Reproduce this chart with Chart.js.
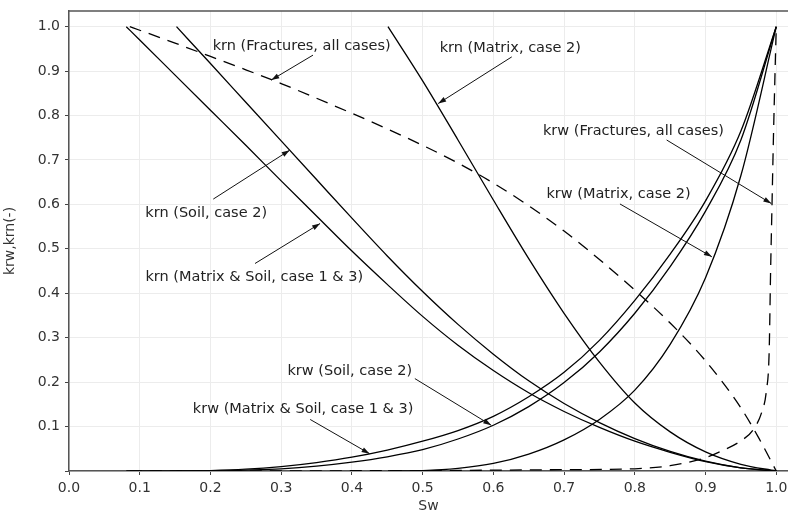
<!DOCTYPE html>
<html><head><meta charset="utf-8">
<script src="https://cdn.jsdelivr.net/npm/chart.js@4.4.0/dist/chart.umd.min.js"></script>
<style>html,body{margin:0;padding:0;background:#fff;overflow:hidden}</style>
</head><body>
<canvas id="c" width="788" height="515"></canvas>
<script>
// ---- tick labels ----
const xTicks = [0.0,0.1,0.2,0.3,0.4,0.5,0.6,0.7,0.8,0.9,1.0];
const yTicks = [0.0,0.1,0.2,0.3,0.4,0.5,0.6,0.7,0.8,0.9,1.0];

// ---- series (Sw, kr) ----
const krnMS_x = [0.081,0.1,0.15,0.2,0.25,0.3,0.35,0.4,0.45,0.5,0.55,0.6,0.65,0.7,0.75,0.8,0.85,0.9,0.95,1.0];
const krnMS_y = [1.0,0.97,0.891,0.812,0.733,0.653,0.574,0.495,0.42,0.348,0.283,0.226,0.176,0.134,0.098,0.067,0.042,0.021,0.007,0];

const krnS2_x = [0.152,0.2,0.25,0.3,0.35,0.4,0.45,0.5,0.55,0.6,0.65,0.7,0.75,0.8,0.85,0.9,0.95,1.0];
const krnS2_y = [1.0,0.917,0.83,0.743,0.656,0.569,0.484,0.404,0.33,0.263,0.203,0.152,0.109,0.073,0.044,0.022,0.007,0];

const krnM2_x = [0.451,0.5,0.55,0.6,0.65,0.7,0.75,0.8,0.85,0.9,0.95,1.0];
const krnM2_y = [1.0,0.878,0.745,0.61,0.478,0.355,0.245,0.153,0.088,0.043,0.015,0];

const krnF_x = [0.086,0.1,0.15,0.2,0.25,0.3,0.35,0.4,0.45,0.5,0.55,0.6,0.65,0.7,0.75,0.8,0.85,0.9,0.95,0.975,1.0];
const krnF_y = [1.0,0.992,0.963,0.933,0.903,0.872,0.839,0.805,0.77,0.733,0.693,0.648,0.597,0.54,0.476,0.407,0.333,0.248,0.142,0.075,0];

const krwF_x = [0.086,0.5,0.7,0.8,0.85,0.9,0.92,0.95,0.967,0.98,0.986,0.99,0.992,0.994,0.996,0.998,1.0];
const krwF_y = [0,0.001,0.003,0.005,0.012,0.03,0.043,0.068,0.092,0.135,0.18,0.27,0.45,0.6,0.75,0.88,1.0];

const krwMS_x = [0.081,0.15,0.2,0.25,0.3,0.35,0.4,0.45,0.5,0.55,0.6,0.65,0.7,0.75,0.8,0.85,0.9,0.95,1.0];
const krwMS_y = [0,0,0.001,0.004,0.01,0.019,0.031,0.047,0.067,0.091,0.123,0.167,0.222,0.294,0.384,0.488,0.608,0.765,1.0];

const krwS2_x = [0.152,0.2,0.25,0.3,0.35,0.4,0.45,0.5,0.55,0.6,0.65,0.7,0.75,0.8,0.85,0.9,0.95,1.0];
const krwS2_y = [0,0,0.002,0.005,0.011,0.02,0.032,0.048,0.072,0.103,0.145,0.199,0.268,0.355,0.46,0.585,0.745,1.0];

const krwM2_x = [0.451,0.5,0.55,0.6,0.65,0.7,0.75,0.8,0.85,0.9,0.95,1.0];
const krwM2_y = [0,0.001,0.006,0.017,0.038,0.07,0.116,0.182,0.285,0.435,0.665,1.0];

// ---- annotation texts ----
const labelTexts = [
  'krn (Fractures, all cases)',
  'krn (Matrix, case 2)',
  'krw (Fractures, all cases)',
  'krw (Matrix, case 2)',
  'krn (Soil, case 2)',
  'krn (Matrix & Soil, case 1 & 3)',
  'krw (Soil, case 2)',
  'krw (Matrix & Soil, case 1 & 3)'
];

const FONT = '"DejaVu Sans"';

// layout of annotations (data coordinates): text centre, arrow start, arrow tip
const annotLayout = [
  {t:[0.329,0.957], a:[0.345,0.936], b:[0.286,0.880]},
  {t:[0.624,0.952], a:[0.626,0.932], b:[0.522,0.827]},
  {t:[0.798,0.765], a:[0.845,0.745], b:[0.993,0.602]},
  {t:[0.777,0.623], a:[0.779,0.601], b:[0.909,0.482]},
  {t:[0.194,0.581], a:[0.204,0.612], b:[0.312,0.722]},
  {t:[0.262,0.436], a:[0.263,0.467], b:[0.355,0.557]},
  {t:[0.397,0.225], a:[0.489,0.208], b:[0.597,0.103]},
  {t:[0.331,0.139], a:[0.341,0.116], b:[0.425,0.039]}
];

const series = [
  {x:krnMS_x, y:krnMS_y, dash:[]},
  {x:krnS2_x, y:krnS2_y, dash:[]},
  {x:krnM2_x, y:krnM2_y, dash:[]},
  {x:krnF_x,  y:krnF_y,  dash:[12,8]},
  {x:krwF_x,  y:krwF_y,  dash:[12,8]},
  {x:krwMS_x, y:krwMS_y, dash:[]},
  {x:krwS2_x, y:krwS2_y, dash:[]},
  {x:krwM2_x, y:krwM2_y, dash:[]}
];

const annotPlugin = {
  id:'annot',
  afterDatasetsDraw(chart){
    const {ctx, scales:{x, y}, chartArea} = chart;
    ctx.save();
    ctx.strokeStyle = '#555'; ctx.lineWidth = 1.5;
    ctx.beginPath(); ctx.moveTo(chartArea.left, chartArea.top); ctx.lineTo(chartArea.right, chartArea.top); ctx.stroke();
    ctx.font = '14.5px ' + FONT;
    ctx.textAlign = 'center'; ctx.textBaseline = 'middle';
    annotLayout.forEach((L, i) => {
      ctx.fillStyle = '#222';
      ctx.fillText(labelTexts[i], x.getPixelForValue(L.t[0]), y.getPixelForValue(L.t[1]));
      const x1 = x.getPixelForValue(L.a[0]), y1 = y.getPixelForValue(L.a[1]);
      const x2 = x.getPixelForValue(L.b[0]), y2 = y.getPixelForValue(L.b[1]);
      ctx.strokeStyle = '#111'; ctx.lineWidth = 1;
      ctx.beginPath(); ctx.moveTo(x1, y1); ctx.lineTo(x2, y2); ctx.stroke();
      const ang = Math.atan2(y2 - y1, x2 - x1), len = 8, hw = 2.6;
      ctx.beginPath();
      ctx.moveTo(x2, y2);
      ctx.lineTo(x2 - len*Math.cos(ang) + hw*Math.sin(ang), y2 - len*Math.sin(ang) - hw*Math.cos(ang));
      ctx.lineTo(x2 - len*Math.cos(ang) - hw*Math.sin(ang), y2 - len*Math.sin(ang) + hw*Math.cos(ang));
      ctx.closePath(); ctx.fillStyle = '#111'; ctx.fill();
    });
    ctx.restore();
  }
};

new Chart(document.getElementById('c').getContext('2d'), {
  type:'scatter',
  data:{
    datasets: series.map(s => ({
      data: s.x.map((v, i) => ({x:v, y:s.y[i]})),
      showLine:true, borderColor:'#000', borderWidth:1.3, borderDash:s.dash,
      pointRadius:0, fill:false, tension:0.4, cubicInterpolationMode:'monotone'
    }))
  },
  options:{
    responsive:false, animation:false, devicePixelRatio:1,
    layout:{padding:{top:11, left:0, right:0, bottom:0}},
    plugins:{legend:{display:false}, tooltip:{enabled:false}},
    scales:{
      x:{
        type:'linear', min:0, max:1.0166,
        afterBuildTicks: s => { s.ticks = xTicks.map(v => ({value:v})); },
        ticks:{callback: v => Number(v).toFixed(1), font:{family:FONT, size:14}, color:'#333', padding:5, maxRotation:0, autoSkip:false},
        grid:{color:'#ececec', lineWidth:1, tickColor:'#444', tickLength:4},
        border:{color:'#555', width:1.5},
        title:{display:true, text:'Sw', font:{family:FONT, size:14}, color:'#333', padding:{top:0, bottom:0}},
        afterFit: s => { s.height = 44; s.paddingLeft = 0; s.paddingRight = 0; }
      },
      y:{
        type:'linear', min:0, max:1.0353,
        afterBuildTicks: s => { s.ticks = yTicks.map(v => ({value:v})); },
        ticks:{callback: v => (v === 0 ? '' : Number(v).toFixed(1)), font:{family:FONT, size:14}, color:'#333', padding:5, autoSkip:false},
        grid:{color:'#ececec', lineWidth:1, tickColor:'#444', tickLength:4},
        border:{color:'#555', width:1.5},
        title:{display:true, text:'krw,krn(-)', font:{family:FONT, size:14}, color:'#333', padding:{top:2, bottom:0}},
        afterFit: s => { s.width = 69; s.paddingTop = 0; s.paddingBottom = 0; }
      }
    }
  },
  plugins:[annotPlugin]
});
</script>
</body></html>
